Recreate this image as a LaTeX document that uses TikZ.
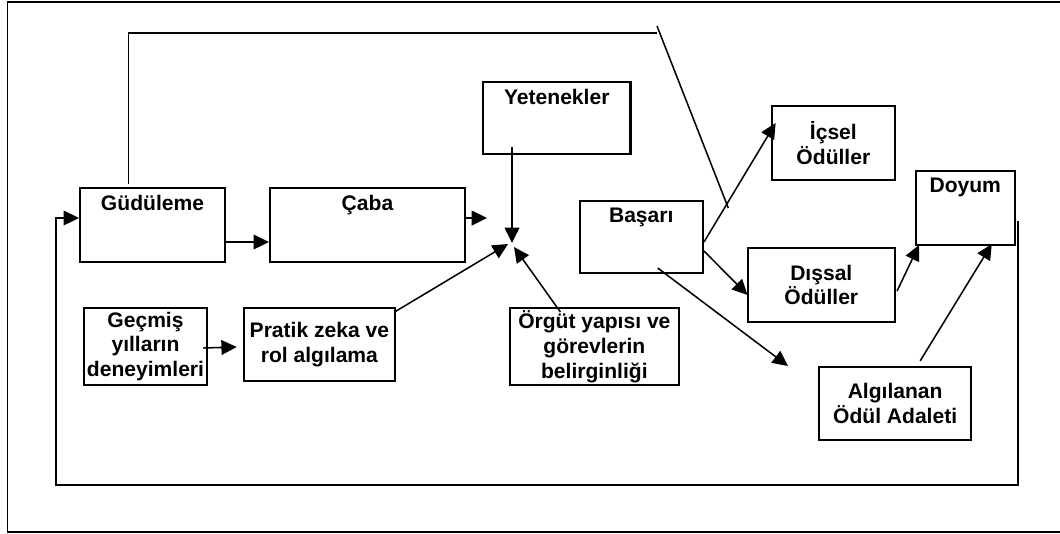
\documentclass[tikz,border=0pt]{standalone}
\usepackage{fontspec}
\setmainfont{Liberation Sans}
\usetikzlibrary{arrows.meta,calc}
\tikzset{
  box/.style={rectangle, draw=black, line width=1.6pt, inner sep=1pt, align=center,
    font=\bfseries\fontsize{15.8}{18.6}\selectfont},
  toptext/.style={label={[anchor=north, inner sep=6.2pt,
    font=\bfseries\fontsize{15.8}{18.6}\selectfont]north:#1}},
  wire/.style={line width=1.15pt, draw=black},
  flow/.style={wire, -{Triangle[length=11.5pt,width=11pt]}},
  frame/.style={line width=1.1pt, draw=black},
}
\begin{document}
\begin{tikzpicture}[x=0.75pt, y=-0.75pt]
  \useasboundingbox (0,0) rectangle (1060,533);
  \draw[frame] (1060,2) -- (7.6,2) -- (7.6,532) -- (1060,532);
  % boxes
  \node[box, minimum width=108.75pt, minimum height=55.5pt, toptext=Güdüleme] (gud) at (152.5,225) {};
  \node[box, minimum width=146.25pt, minimum height=55.5pt, toptext=Çaba] (cab) at (367.5,225) {};
  \node[box, minimum width=110.6pt, minimum height=54pt, toptext=Yetenekler] (yet) at (556.75,118) {};
  \node[box, minimum width=92.5pt, minimum height=55.5pt] (ics) at (833.35,143) {İçsel\\Ödüller};
  \node[box, minimum width=74.25pt, minimum height=55.5pt, toptext=Doyum] (doy) at (965.25,208) {};
  \node[box, minimum width=92.5pt, minimum height=54pt, toptext=Başarı] (bas) at (641.25,237) {};
  \node[box, minimum width=110.5pt, minimum height=55.5pt] (dis) at (821.3,285) {Dışsal\\Ödüller};
  \node[box, minimum width=92.7pt, minimum height=57.75pt] (gec) at (145.5,346.5) {Geçmiş\\yılların\\deneyimleri};
  \node[box, minimum width=113.4pt, minimum height=54.75pt] (pra) at (319.4,344.5) {Pratik zeka ve\\rol algılama};
  \node[box, minimum width=127.1pt, minimum height=57.75pt] (org) at (594.35,346.5) {Örgüt yapısı ve\\görevlerin\\belirginliği};
  \node[box, minimum width=113.9pt, minimum height=54.75pt] (alg) at (895.15,403.5) {Algılanan\\Ödül Adaleti};
  % top link
  \coordinate (tl) at (128.5,33);
  \coordinate (tr) at (656.7,33);
  \coordinate (dgA) at (657,26);
  \coordinate (dgB) at (728.3,208);
  \draw[wire] ($(gud.north)+(-24,-3)$) -- (tl) -- (tr);
  \draw[wire] (dgA) -- (dgB);
  % feedback loop
  \coordinate (fbR) at (1018,221);
  \coordinate (fbB) at (1018,485);
  \coordinate (fbL) at (56,485);
  \draw[flow] (fbR) -- (fbB) -- (fbL) |- ($(gud.west)+(0,-7)$);
  % left part
  \coordinate (cabE) at (487,218);
  \coordinate (mp) at (512,243);
  \draw[flow] ($(gud.east)+(0,17)$) -- ($(cab.west)+(0,17)$);
  \draw[flow] ($(cab.east)+(0,-7)$) -- (cabE);
  \draw[flow] ($(yet.south)+(-44.75,-8)$) -- (mp);
  \draw[flow] ($(pra.north east)+(-1.4,5)$) -- ($(mp)+(-4,1)$);
  \draw[flow] ($(org.north)+(-34,5)$) -- ($(mp)+(2,4)$);
  \draw[flow] ($(gec.east)+(-5,1.5)$) -- ($(pra.west)+(-6,2.5)$);
  % right part
  \coordinate (basS) at (788,366);
  \draw[flow] ($(bas.east)+(0,5)$) -- ($(ics.west)+(5,-20)$);
  \draw[flow] ($(bas.east)+(0,14)$) -- ($(dis.west)+(1,10)$);
  \draw[flow] ($(bas.south)+(16.5,-6)$) -- (basS);
  \draw[flow] ($(dis.east)+(1,6)$) -- ($(doy.south west)+(4.3,-1)$);
  \draw[flow] ($(alg.north)+(25,-5)$) -- ($(doy.south)+(26.5,-2)$);
\end{tikzpicture}
\end{document}
